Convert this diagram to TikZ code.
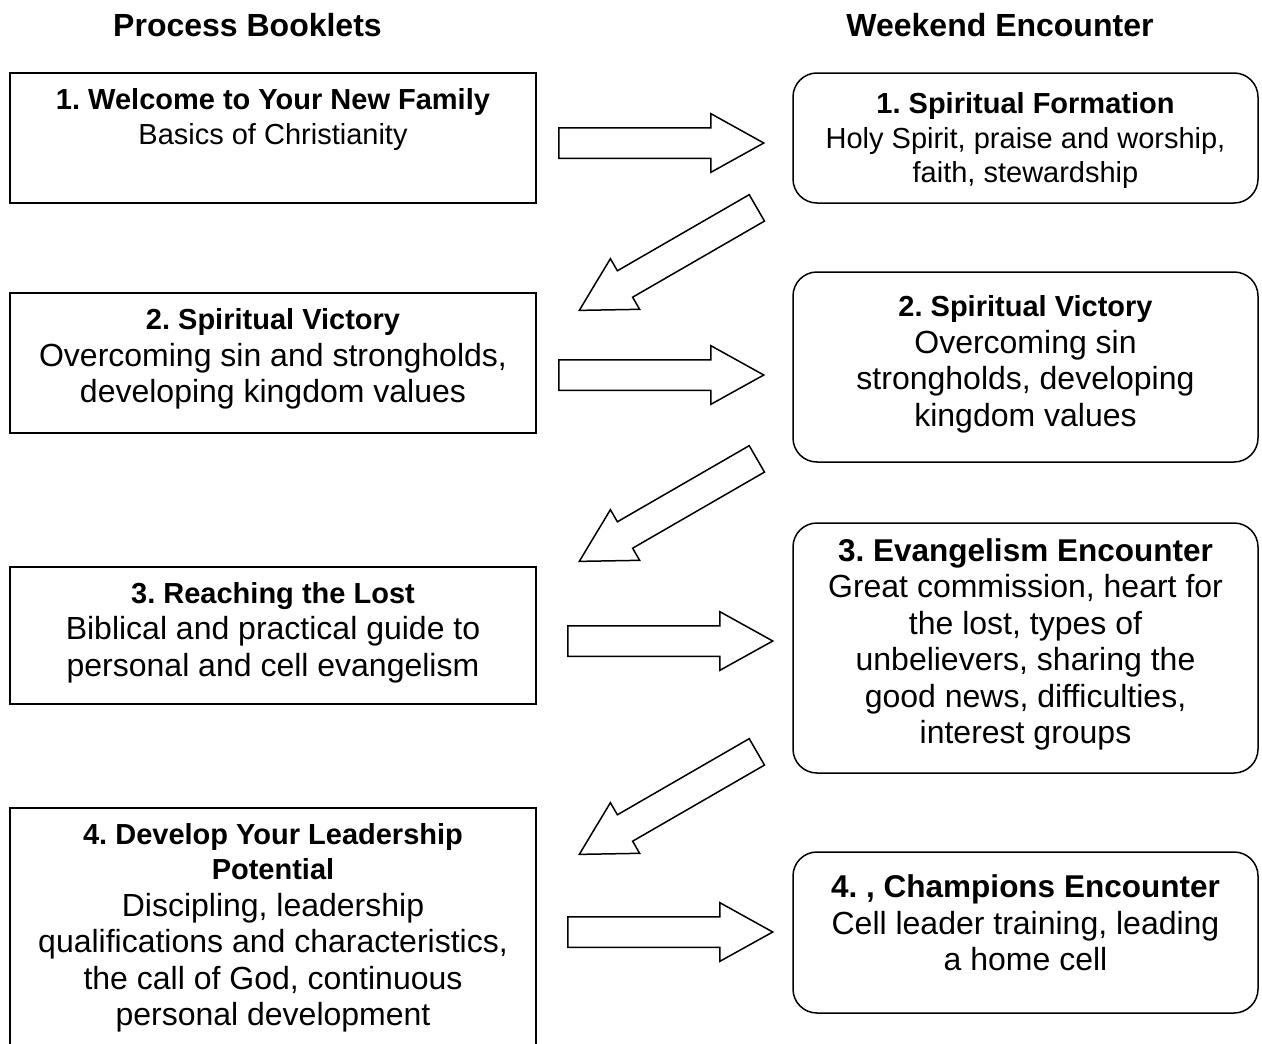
\documentclass[tikz,border=0pt]{standalone}
\usepackage{fontspec}
\setmainfont{Liberation Sans}
\usepackage{tikz}
\usetikzlibrary{positioning,shapes.arrows}
\frenchspacing
\tikzset{
  enc diagram/.style={x=1pt, y=-1pt, text=black, line join=miter},
  enc box/.style={draw=black, fill=white, line width=1.5pt,
    minimum width=526pt, inner sep=0pt},
  enc round box/.style={enc box, minimum width=465pt, rounded corners=24pt},
  enc text/.style={align=center, inner sep=0pt,
    font=\fontsize{32}{36.5}\selectfont},
  enc small text/.style={enc text, font=\fontsize{29}{34.5}\selectfont},
  enc head/.style={inner sep=0pt, font=\fontsize{32}{38}\selectfont\bfseries},
  enc arrow/.style={single arrow, draw=black, fill=white, line width=1.5pt,
    minimum height=205pt, inner xsep=0pt, inner ysep=14.5pt,
    single arrow head extend=14pt, single arrow tip angle=58, anchor=tail}
}
\newcommand{\enctitle}[1]{{\fontsize{29}{35}\selectfont\bfseries #1}}
\newcommand{\encbigtitle}[1]{{\fontsize{31.5}{36}\selectfont\bfseries #1}}

\begin{document}
\begin{tikzpicture}[enc diagram]
\useasboundingbox (0,0) rectangle (1262,1044);
\clip (0,0) rectangle (1262,1044);
\fill[white] (0,0) rectangle (1262,1044);

% column heads
\node[enc head] (hleft) at (247.5,25) {Process Booklets};
\node[enc head] (hright) at (1000,25) {Weekend Encounter};

% process booklets
\node[enc box, minimum height=130pt] (lb1) at (273,138) {};
\node[enc box, minimum height=140pt] (lb2) at (273,363) {};
\node[enc box, minimum height=137pt] (lb3) at (273,635.5) {};
\node[enc box, minimum height=252pt] (lb4) at (273,934) {};

\node[enc small text, below=16.5pt of lb1.north] (lt1)
  {\enctitle{1. Welcome to Your New Family}\\Basics of Christianity};
\node[enc text, below=16.5pt of lb2.north] (lt2)
  {\enctitle{2. Spiritual Victory}\\Overcoming sin and strongholds,\\
   developing kingdom values};
\node[enc text, below=16pt of lb3.north] (lt3)
  {\enctitle{3. Reaching the Lost}\\Biblical and practical guide to\\
   personal and cell evangelism};
\node[enc text, below=16.5pt of lb4.north] (lt4)
  {\enctitle{4. Develop Your Leadership}\\[-1.5pt]\enctitle{Potential}\\
   Discipling, leadership\\qualifications and characteristics,\\
   the call of God, continuous\\personal development};

% weekend encounters
\node[enc round box, minimum height=130pt] (rb1) at (1025.5,138) {};
\node[enc round box, minimum height=190pt] (rb2) at (1025.5,367) {};
\node[enc round box, minimum height=250pt] (rb3) at (1025.5,648) {};
\node[enc round box, minimum height=161pt] (rb4) at (1025.5,932.5) {};

\node[enc small text, below=20.5pt of rb1.north] (rt1)
  {\enctitle{1. Spiritual Formation}\\Holy Spirit, praise and worship,\\
   faith, stewardship};
\node[enc text, below=24.5pt of rb2.north] (rt2)
  {\enctitle{2. Spiritual Victory}\\Overcoming sin\\
   strongholds, developing\\kingdom values};
\node[enc text, below=16pt of rb3.north] (rt3)
  {\encbigtitle{3. Evangelism Encounter}\\Great commission, heart for\\
   the lost, types of\\unbelievers, sharing the\\good news, difficulties,\\
   interest groups};
\node[enc text, below=23.5pt of rb4.north] (rt4)
  {\encbigtitle{4. , Champions Encounter}\\Cell leader training, leading\\
   a home cell};

% block arrows, placed by their tails
\node[enc arrow] (ha1) at (558,143) {};
\node[enc arrow] (ha2) at (558,375) {};
\node[enc arrow] (ha3) at (567,641) {};
\node[enc arrow] (ha4) at (567,932) {};
\node[enc arrow, rotate=210] (da1) at (757.5,207.5) {};
\node[enc arrow, rotate=210] (da2) at (757.5,458.5) {};
\node[enc arrow, rotate=210] (da3) at (757.5,751.5) {};
\end{tikzpicture}
\end{document}
